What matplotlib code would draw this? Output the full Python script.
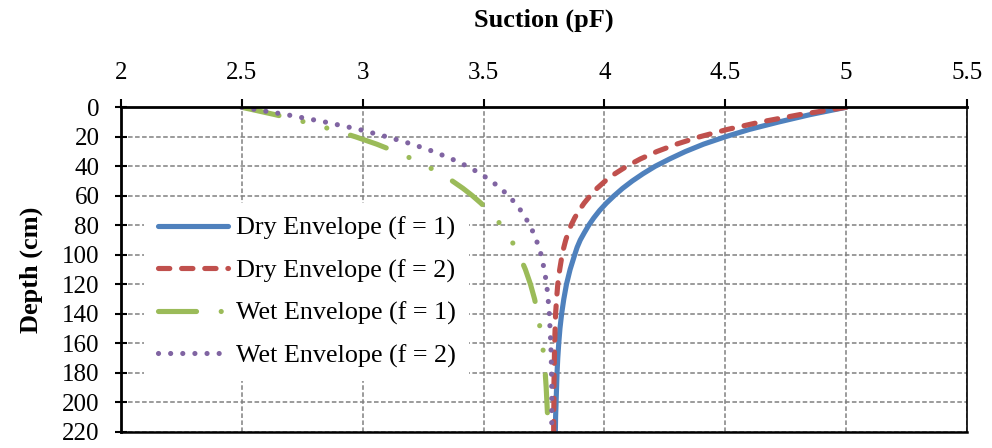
import matplotlib
matplotlib.use("Agg")
import matplotlib.pyplot as plt

plt.rcParams['font.family'] = ['Liberation Serif', 'DejaVu Serif']

# ---- data ----
depth_cm = [0, 5, 10, 15, 20, 25, 30, 35, 40, 45, 50, 55, 60, 65, 70, 75, 80, 85, 90,
            95, 100, 110, 120, 130, 140, 150, 160, 170, 180, 190, 200, 210, 220]
dry_f1 = [5.0, 4.85, 4.72, 4.60, 4.50, 4.41, 4.335, 4.27, 4.21, 4.16, 4.115, 4.075,
          4.04, 4.008, 3.98, 3.956, 3.935, 3.917, 3.90, 3.887, 3.877, 3.858, 3.843,
          3.832, 3.823, 3.816, 3.811, 3.807, 3.804, 3.802, 3.80, 3.798, 3.797]
dry_f2 = [5.0, 4.807, 4.645, 4.509, 4.394, 4.298, 4.217, 4.149, 4.092, 4.044, 4.003,
          3.969, 3.941, 3.916, 3.895, 3.877, 3.862, 3.850, 3.84, 3.832, 3.825, 3.815,
          3.807, 3.802, 3.798, 3.796, 3.794, 3.793, 3.792, 3.791, 3.791, 3.79, 3.79]
wet_f1 = [2.5, 2.638, 2.762, 2.872, 2.970, 3.058, 3.135, 3.205, 3.267, 3.322, 3.371,
          3.415, 3.454, 3.489, 3.520, 3.548, 3.573, 3.595, 3.614, 3.631, 3.647, 3.673,
          3.694, 3.711, 3.724, 3.734, 3.743, 3.750, 3.755, 3.759, 3.762, 3.765, 3.767]
wet_f2 = [2.5, 2.685, 2.845, 2.985, 3.10, 3.205, 3.293, 3.368, 3.433, 3.487, 3.532,
          3.571, 3.603, 3.631, 3.654, 3.674, 3.691, 3.706, 3.718, 3.729, 3.738, 3.751,
          3.761, 3.767, 3.772, 3.775, 3.778, 3.780, 3.781, 3.782, 3.782, 3.782, 3.782]

series_labels = ["Dry Envelope (f = 1)", "Dry Envelope (f = 2)",
                 "Wet Envelope (f = 1)", "Wet Envelope (f = 2)"]
x_ticks = [2, 2.5, 3, 3.5, 4, 4.5, 5, 5.5]
x_ticklabels = ["2", "2.5", "3", "3.5", "4", "4.5", "5", "5.5"]
y_ticks = [0, 20, 40, 60, 80, 100, 120, 140, 160, 180, 200, 220]

# ---- figure ----
W, H = 992, 448
fig = plt.figure(figsize=(W / 100, H / 100), dpi=100)
ax = fig.add_axes([121 / W, 1 - 431.7 / H, (967 - 121) / W, (431.7 - 107.3) / H])

lw = 3.7
ax.plot(dry_f1, depth_cm, color='#4F81BD', lw=lw, solid_capstyle='round',
        label=series_labels[0])
ax.plot(dry_f2, depth_cm, color='#C0504D', lw=lw, dashes=(2.2, 2.3),
        dash_capstyle='round', label=series_labels[1])
ax.plot(wet_f1, depth_cm, color='#9BBB59', lw=lw,
        dashes=(7.4, 4.8, 0.01, 4.8, 0.01, 4.8), dash_capstyle='round',
        label=series_labels[2])
ax.plot(wet_f2, depth_cm, color='#8064A2', lw=lw, dashes=(0.01, 2.35),
        dash_capstyle='round', label=series_labels[3])

ax.set_xlim(2, 5.5)
ax.set_ylim(220, 0)
ax.set_xticks(x_ticks)
ax.set_xticklabels(x_ticklabels)
ax.set_yticks(y_ticks)
ax.xaxis.tick_top()
ax.xaxis.set_label_position('top')

ax.tick_params(axis='x', direction='out', length=6, width=1.5, pad=11,
               labelsize=18, colors='black')
ax.tick_params(axis='y', direction='inout', length=9, width=1.5, pad=11,
               labelsize=18, colors='black')

ax.grid(True, color='#808080', linestyle=(0, (3, 1.6)), linewidth=1.1)
ax.set_axisbelow(True)

for side in ['top', 'left']:
    ax.spines[side].set_linewidth(2.0)
ax.spines['bottom'].set_linewidth(1.8)
ax.spines['right'].set_linewidth(1.2)
for s in ax.spines.values():
    s.set_color('black')

ax.set_xlabel("Suction (pF)", fontsize=19, fontweight='bold', labelpad=25)
ax.set_ylabel("Depth (cm)", fontsize=19, fontweight='bold', labelpad=14)

leg = ax.legend(loc='upper left', bbox_to_anchor=(144 / W, 1 - 203 / H),
                bbox_transform=fig.transFigure, fontsize=18.8, frameon=True,
                facecolor='white', edgecolor='none', framealpha=1,
                fancybox=False, borderaxespad=0, borderpad=0.52,
                handlelength=2.7, handletextpad=0.3, labelspacing=0.72)

fig.savefig("out.png", dpi=100)
